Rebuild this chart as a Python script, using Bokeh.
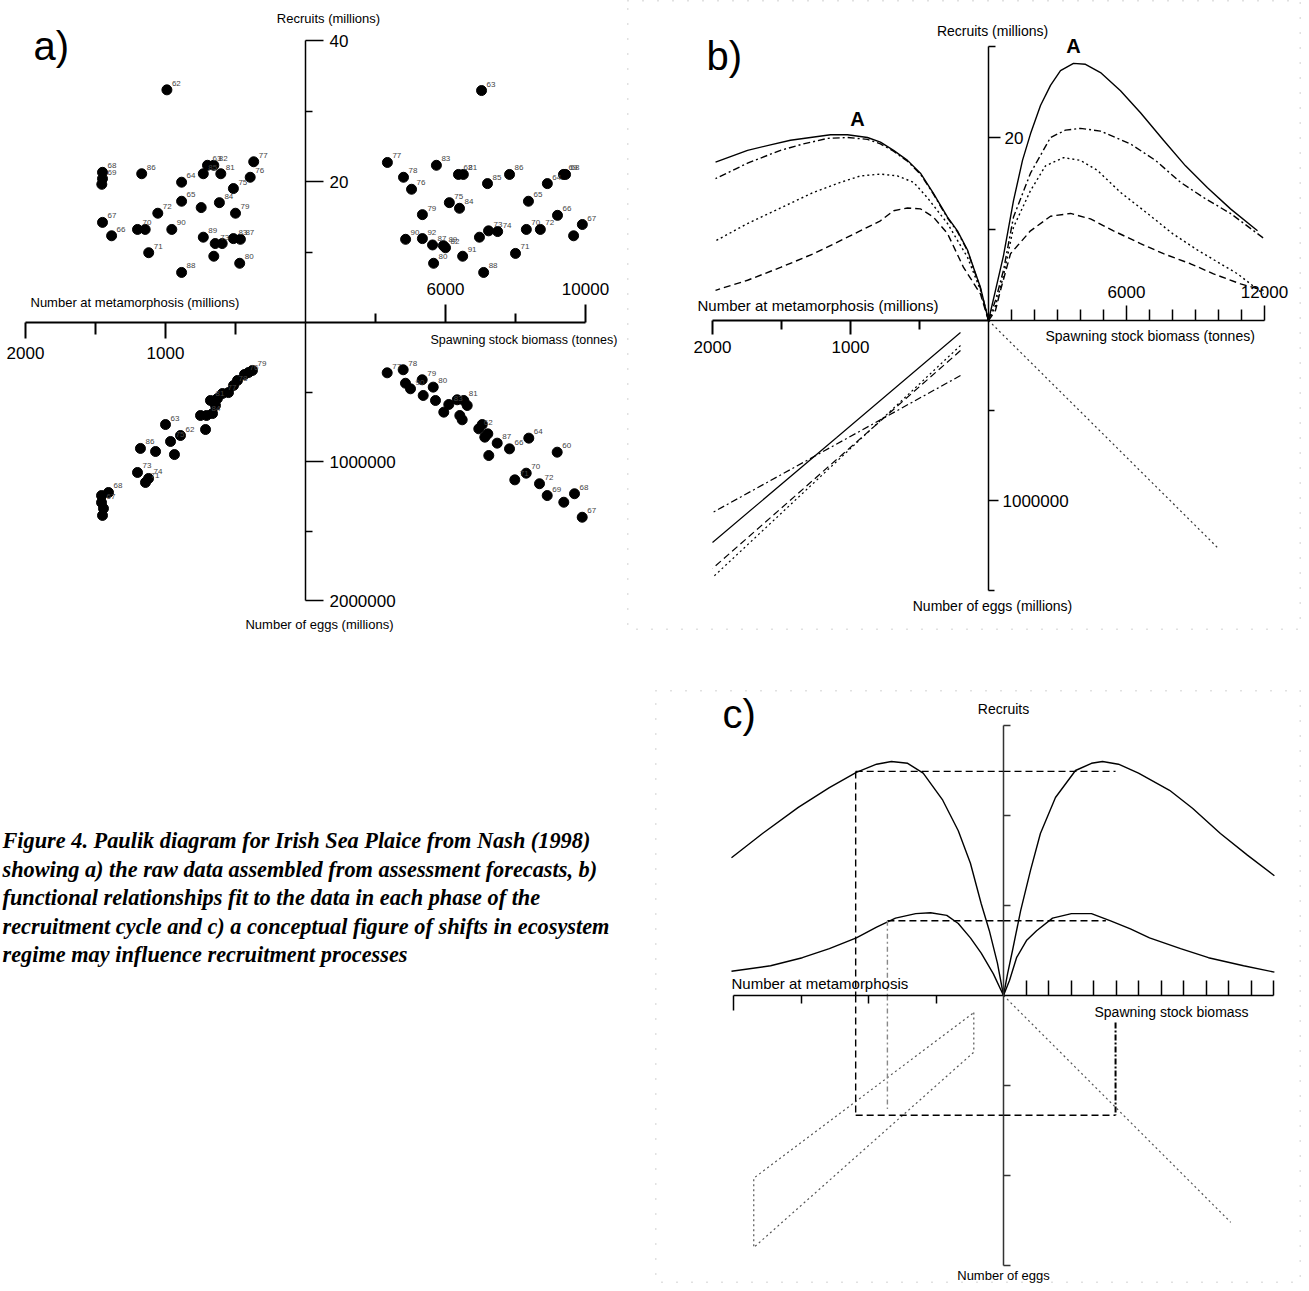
from bokeh.plotting import figure
from bokeh.models import Range1d, LinearAxis, FixedTicker, Spacer
from bokeh.layouts import row, column
from bokeh.core.properties import value
from bokeh.embed import file_html
from bokeh.resources import INLINE

SANS = "Liberation Sans"
SERIF = "Liberation Serif"

# ---------------- Panel a : raw data (year labels) ----------------
# top-left quadrant: number at metamorphosis vs recruits
a_tl_year = ["62", "68", "69", "", "86", "67", "66", "70", "", "71", "72", "65", "64", "85", "90", "63",
             "82", "81", "", "84", "75", "77", "76", "79", "89", "73", "", "83", "87", "80", "88", ""]
a_tl_meta = [990, 1450, 1450, 1455, 1170, 1450, 1385, 1200, 1145, 1120, 1055, 885, 885, 730, 955, 700,
             655, 605, 745, 615, 515, 370, 395, 500, 730, 645, 595, 515, 465, 470, 885, 655]
a_tl_rec = [33.0, 21.3, 20.4, 19.6, 21.1, 14.2, 12.3, 13.2, 13.2, 9.9, 15.5, 17.2, 19.9, 21.1, 13.2, 22.3,
            22.3, 21.1, 16.3, 17.0, 19.0, 22.8, 20.6, 15.5, 12.1, 11.2, 11.2, 11.9, 11.8, 8.4, 7.1, 9.4]

# top-right quadrant: spawning stock biomass vs recruits
a_tr_year = ["63", "77", "78", "76", "83", "62", "81", "85", "86", "64", "69", "68", "65", "75", "84", "79",
             "66", "67", "", "90", "92", "87", "89", "82", "91", "", "73", "74", "70", "72", "71", "88", "80"]
a_tr_ssb = [7030, 4340, 4800, 5030, 5740, 6370, 6510, 7200, 7830, 8910, 9370, 9430, 8370, 6110, 6400, 5340,
            9200, 9910, 9660, 4860, 5340, 5630, 5940, 6000, 6490, 6970, 7230, 7490, 8310, 8710, 8000, 7090, 5660]
a_tr_rec = [32.9, 22.7, 20.6, 18.9, 22.3, 21.0, 21.0, 19.7, 21.0, 19.7, 21.0, 21.0, 17.2, 17.0, 16.2, 15.3,
            15.2, 13.9, 12.3, 11.8, 11.9, 11.0, 10.9, 10.6, 9.4, 12.1, 13.0, 12.9, 13.2, 13.2, 9.8, 7.1, 8.4]

# bottom-left quadrant: number at metamorphosis vs number of eggs
a_bl_year = ["79", "", "76", "", "78", "", "77", "", "", "81", "", "84", "", "", "62", "75", "63", "",
             "", "86", "73", "71", "74", "68", "", "67", "", ""]
a_bl_meta = [379, 407, 436, 486, 514, 550, 593, 629, 643, 679, 664, 707, 750, 714, 893, 964, 1000, 936,
             1071, 1179, 1200, 1143, 1121, 1407, 1457, 1457, 1443, 1450]
a_bl_egg = [345000, 360000, 374000, 417000, 453000, 504000, 511000, 547000, 597000, 561000, 655000, 669000,
            669000, 770000, 813000, 856000, 734000, 950000, 928000, 906000, 1079000, 1151000, 1122000,
            1223000, 1245000, 1295000, 1338000, 1388000]

# bottom-right quadrant: spawning stock biomass vs number of eggs
a_br_year = ["77", "78", "", "90", "79", "", "80", "", "", "83", "", "", "", "81", "", "62", "", "", "",
             "87", "66", "", "64", "60", "71", "70", "72", "69", "", "68", "67"]
a_br_ssb = [4334, 4791, 4857, 5000, 5334, 5363, 5649, 5714, 5951, 6094, 6334, 6409, 6477, 6523, 6620, 6951,
            7049, 7123, 7209, 7477, 7829, 7237, 8380, 9191, 7980, 8306, 8686, 8906, 9380, 9686, 9906]
a_br_egg = [362000, 340000, 437000, 477000, 412000, 525000, 465000, 561000, 645000, 590000, 556000, 669000,
            700000, 561000, 597000, 765000, 734000, 825000, 801000, 868000, 909000, 957000, 832000, 933000,
            1132000, 1084000, 1160000, 1245000, 1293000, 1232000, 1401000]

# ---------------- Panel b : fitted relationships ----------------
b_tl_solid_meta = [0, 58, 109, 152, 225, 297, 399, 493, 587, 688, 783, 877, 1022, 1145, 1290, 1435, 1580, 1746, 1978]
b_tl_solid_rec = [0, 3.6, 5.8, 7.7, 9.8, 11.3, 13.9, 16.1, 17.5, 18.6, 19.5, 20.0, 20.3, 20.3, 20.0, 19.7, 19.2, 18.6, 17.3]
b_tl_dashdot_meta = [0, 58, 109, 152, 225, 297, 399, 493, 587, 688, 783, 877, 1022, 1167, 1341, 1507, 1746, 1978]
b_tl_dashdot_rec = [0, 3.5, 5.7, 7.6, 9.7, 11.2, 13.8, 16.0, 17.4, 18.5, 19.3, 19.8, 20.0, 19.9, 19.3, 18.6, 17.2, 15.5]
b_tl_dotted_meta = [0, 58, 152, 297, 442, 543, 659, 783, 928, 1072, 1268, 1507, 1746, 1978]
b_tl_dotted_rec = [0, 3.3, 6.9, 10.6, 13.4, 15.1, 15.8, 16.0, 15.8, 15.1, 14.0, 12.3, 10.6, 8.7]
b_tl_dashed_meta = [0, 58, 181, 297, 399, 493, 587, 688, 783, 1022, 1268, 1507, 1746, 1978]
b_tl_dashed_rec = [0, 2.9, 5.8, 9.5, 11.3, 12.2, 12.3, 12.0, 10.9, 9.1, 7.3, 5.8, 4.4, 3.3]

b_tr_solid_ssb = [0, 304, 652, 1087, 1478, 1826, 2261, 2696, 3130, 3696, 4217, 4870, 5739, 6609, 7609,
                  8565, 9522, 10522, 11696]
b_tr_solid_rec = [0, 3.3, 7.1, 13.1, 17.5, 20.4, 23.5, 25.7, 27.3, 28.1, 28.0, 27.1, 25.1, 22.7, 19.7,
                  16.9, 14.5, 12.2, 9.8]
b_tr_dashdot_ssb = [0, 304, 652, 1087, 1826, 2696, 3348, 4000, 4870, 6174, 7261, 8348, 9435, 10522, 11957]
b_tr_dashdot_rec = [0, 2.2, 5.5, 11.3, 16.1, 20.0, 20.8, 21.0, 20.7, 19.3, 17.5, 15.1, 13.3, 11.7, 9.0]
b_tr_dotted_ssb = [0, 304, 652, 1087, 1826, 2478, 3261, 4000, 4739, 5739, 6913, 8000, 9087, 10087, 10826, 11957]
b_tr_dotted_rec = [0, 1.6, 4.9, 10.2, 14.2, 16.9, 17.8, 17.5, 16.4, 14.0, 11.7, 9.5, 7.7, 6.2, 5.1, 2.9]
b_tr_dashed_ssb = [0, 304, 522, 957, 1826, 2696, 3565, 4435, 5435, 6609, 7609, 8783, 9783, 10957, 11957]
b_tr_dashed_rec = [0, 1.1, 3.3, 7.3, 9.8, 11.4, 11.7, 11.1, 9.8, 8.4, 7.3, 6.2, 5.1, 4.0, 3.3]

b_bl_meta = [203, 1100, 2000]
b_bl_solid_egg = [67000, 650000, 1233000]
b_bl_dashdot_egg = [306000, 686000, 1067000]
b_bl_dotted_egg = [139000, 783000, 1428000]
b_bl_dashed_egg = [167000, 772000, 1378000]

b_br_ssb = [0, 5000, 10000]
b_br_egg = [0, 633000, 1267000]

# ---------------- Panel c : conceptual figure ----------------
c_tl_upper_meta = [0, 0.09, 0.21, 0.33, 0.49, 0.67, 0.90, 1.19, 1.42, 1.66, 1.88, 2.18, 2.58, 3.04, 3.57, 4.03]
c_tl_upper_rec = [0, 0.36, 0.72, 1.02, 1.47, 1.83, 2.17, 2.47, 2.58, 2.60, 2.57, 2.48, 2.31, 2.09, 1.80, 1.53]
c_tr_upper_ssb = [0, 0.18, 0.40, 0.76, 1.20, 1.64, 2.31, 3.20, 3.91, 4.40, 5.11, 6.0, 7.38, 8.4, 9.64, 10.84, 12.04]
c_tr_upper_rec = [0, 0.24, 0.50, 0.94, 1.39, 1.80, 2.20, 2.50, 2.58, 2.60, 2.57, 2.47, 2.28, 2.08, 1.80, 1.56, 1.33]
c_tl_lower_meta = [0, 0.15, 0.33, 0.49, 0.67, 0.84, 1.08, 1.30, 1.60, 1.88, 2.18, 2.58, 2.98, 3.45, 4.03]
c_tl_lower_rec = [0, 0.24, 0.47, 0.64, 0.80, 0.89, 0.92, 0.91, 0.86, 0.76, 0.64, 0.52, 0.42, 0.33, 0.27]
c_tr_lower_ssb = [0, 0.27, 0.58, 1.02, 1.47, 2.18, 3.02, 3.91, 4.76, 5.64, 6.49, 7.87, 9.11, 10.67, 12.04]
c_tr_lower_rec = [0, 0.17, 0.42, 0.61, 0.72, 0.86, 0.91, 0.91, 0.83, 0.74, 0.64, 0.52, 0.42, 0.33, 0.26]

c_poly_meta = [0.44, 0.44, 3.70, 3.70, 0.44]
c_poly_egg = [0.19, 0.63, 2.80, 2.03, 0.19]
c_br_ssb = [0, 10.1]
c_br_egg = [0, 2.52]

# reference (projection) lines of panel c
c_hi_rec, c_hi_meta, c_hi_ssb, c_hi_egg = 2.49, 2.19, 4.98, 1.33
c_lo_rec, c_lo_meta, c_lo_ssb, c_lo_egg = 0.83, 1.72, 4.55, 1.26

caption_lines = [
    "Figure 4.  Paulik diagram for  Irish Sea Plaice from Nash (1998)",
    "showing a) the raw data assembled from assessment forecasts, b)",
    "functional relationships fit to the data in each phase of the",
    "recruitment cycle and c) a conceptual figure of shifts in ecosystem",
    "regime may influence recruitment processes",
]


def panel(w, h, left, top, ox, oy, meta_ppu, ssb_ppu, ssb0, rec_ppu, egg_ppu):
    right, bottom = left + w, top + h
    p = figure(width=w, height=h,
               x_range=Range1d(ssb0 + (left - ox) / ssb_ppu, ssb0 + (right - ox) / ssb_ppu),
               y_range=Range1d((oy - bottom) / rec_ppu, (oy - top) / rec_ppu),
               x_axis_type=None, y_axis_type=None, output_backend="svg",
               toolbar_location=None, min_border=0)
    p.extra_x_ranges = {"meta": Range1d((ox - left) / meta_ppu, (ox - right) / meta_ppu),
                        "px": Range1d(left, right)}
    p.extra_y_ranges = {"egg": Range1d((bottom - oy) / egg_ppu, (top - oy) / egg_ppu),
                        "py": Range1d(bottom, top)}
    p.background_fill_color = "white"
    p.border_fill_color = "white"
    p.outline_line_color = None
    return p


def axis(p, side, rng, bounds, major, minor, labels, fixed, tmaj, tmin, standoff,
         fs="17px", lw=1.5, color="black"):
    kw = dict(bounds=bounds, fixed_location=fixed,
              ticker=FixedTicker(ticks=major, minor_ticks=minor),
              major_tick_out=tmaj, major_tick_in=0, minor_tick_out=tmin, minor_tick_in=0,
              major_label_standoff=standoff, major_label_text_font=SANS,
              major_label_text_font_size=fs, major_label_text_color="black",
              axis_line_width=lw, axis_line_color=color,
              major_tick_line_width=lw, minor_tick_line_width=lw,
              major_tick_line_color=color, minor_tick_line_color=color,
              major_label_overrides=labels)
    if side in ("below", "above"):
        ax = LinearAxis(x_range_name=rng, **kw)
    else:
        ax = LinearAxis(y_range_name=rng, **kw)
    p.add_layout(ax, side)


def label(p, x, y, text, size, align="center", style="normal", font=SANS, baseline="middle"):
    p.text(x=[x], y=[y], text=[text], x_range_name="px", y_range_name="py",
           text_font=value(font), text_font_size=size, text_align=align,
           text_baseline=baseline, text_font_style=style, text_color="black")


def years(p, xs, ys, labs, xr="default", yr="default"):
    p.scatter(x=xs, y=ys, x_range_name=xr, y_range_name=yr, size=10, color="black")
    p.text(x=xs, y=ys, text=labs, x_range_name=xr, y_range_name=yr, x_offset=5, y_offset=-4,
           text_font=value(SANS), text_font_size="8px", text_color="#444",
           text_baseline="bottom", text_align="left")


DASHES = {"solid": "solid", "dashdot": "7 3 2 3", "dotted": "2 3", "dashed": "7 4"}

# ================= Panel a =================
pa = panel(627, 1283, 0, 0, ox=305, oy=322, meta_ppu=0.14, ssb_ppu=0.035, ssb0=2000,
           rec_ppu=7.05, egg_ppu=139e-6)
axis(pa, "below", "meta", (0, 2000), [1000, 2000], [500, 1500], {1000: "1000", 2000: "2000"},
     0, 16, 12, 8, lw=2)
axis(pa, "above", "default", (2000, 10000), [6000, 10000], [4000, 8000], {6000: "6000", 10000: "10000"},
     0, 18, 9, 10, lw=2)
axis(pa, "right", "default", (0, 40), [20, 40], [10, 30], {20: "20", 40: "40"}, 2000, 18, 7, 6)
axis(pa, "right", "egg", (0, 2000000), [1000000, 2000000], [500000, 1500000],
     {1000000: "1000000", 2000000: "2000000"}, 2000, 18, 7, 6)

years(pa, a_tl_meta, a_tl_rec, a_tl_year, xr="meta")
years(pa, a_tr_ssb, a_tr_rec, a_tr_year)
years(pa, a_bl_meta, a_bl_egg, a_bl_year, xr="meta", yr="egg")
years(pa, a_br_ssb, a_br_egg, a_br_year, yr="egg")

label(pa, 33, 45, "a)", "40px", align="left")
label(pa, 328, 18, "Recruits (millions)", "13px")
label(pa, 30, 302, "Number at metamorphosis (millions)", "13px", align="left")
label(pa, 430, 339, "Spawning stock biomass (tonnes)", "12.5px", align="left")
label(pa, 319, 624, "Number of eggs (millions)", "13px")
for i, line in enumerate(caption_lines):
    label(pa, 2, 840 + i * 28.5, line, "22.3px", align="left", style="bold italic", font=SERIF)

# ================= Panel b =================
pb = panel(674, 630, 627, 0, ox=988, oy=320, meta_ppu=0.138, ssb_ppu=0.023, ssb0=0,
           rec_ppu=9.15, egg_ppu=180e-6)
pb.outline_line_color = "#c4c4c4"
pb.outline_line_dash = "1 14"
pb.outline_line_width = 2
axis(pb, "below", "meta", (0, 2000), [1000, 2000], [500, 1500], {1000: "1000", 2000: "2000"},
     0, 14, 9, 6, lw=2)
axis(pb, "above", "default", (0, 12000), [6000, 12000],
     [1000, 2000, 3000, 4000, 5000, 7000, 8000, 9000, 10000, 11000], {6000: "6000", 12000: "12000"},
     0, 15, 11, 8)
axis(pb, "right", "default", (0, 30), [20], [10, 30], {20: "20"}, 0, 12, 7, 4)
axis(pb, "right", "egg", (0, 1500000), [1000000], [500000, 1500000], {1000000: "1000000"}, 0, 10, 6, 4)

for xs, ys, d in [(b_tl_solid_meta, b_tl_solid_rec, "solid"), (b_tl_dashdot_meta, b_tl_dashdot_rec, "dashdot"),
                  (b_tl_dotted_meta, b_tl_dotted_rec, "dotted"), (b_tl_dashed_meta, b_tl_dashed_rec, "dashed")]:
    pb.line(xs, ys, x_range_name="meta", line_color="black", line_width=1.4, line_dash=DASHES[d])
for xs, ys, d in [(b_tr_solid_ssb, b_tr_solid_rec, "solid"), (b_tr_dashdot_ssb, b_tr_dashdot_rec, "dashdot"),
                  (b_tr_dotted_ssb, b_tr_dotted_rec, "dotted"), (b_tr_dashed_ssb, b_tr_dashed_rec, "dashed")]:
    pb.line(xs, ys, line_color="black", line_width=1.4, line_dash=DASHES[d])
for ys, d in [(b_bl_solid_egg, "solid"), (b_bl_dashdot_egg, "dashdot"),
              (b_bl_dotted_egg, "dotted"), (b_bl_dashed_egg, "dashed")]:
    pb.line(b_bl_meta, ys, x_range_name="meta", y_range_name="egg", line_color="black",
            line_width=1.2, line_dash=DASHES[d])
pb.line(b_br_ssb, b_br_egg, y_range_name="egg", line_color="#333", line_width=1.2, line_dash="2 3")

label(pb, 706, 55, "b)", "40px", align="left")
label(pb, 857, 118, "A", "20px", style="bold")
label(pb, 1073, 45, "A", "20px", style="bold")
label(pb, 992, 30, "Recruits (millions)", "14px")
label(pb, 697, 305, "Number at metamorphosis (millions)", "15px", align="left")
label(pb, 1045, 335, "Spawning stock biomass (tonnes)", "14px", align="left")
label(pb, 992, 605, "Number of eggs (millions)", "14px")

# ================= Panel c =================
pc = panel(646, 593, 655, 690, ox=1003, oy=995, meta_ppu=67.5, ssb_ppu=22.5, ssb0=0,
           rec_ppu=90, egg_ppu=90)
pc.outline_line_color = "#c4c4c4"
pc.outline_line_dash = "1 14"
pc.outline_line_width = 2
axis(pc, "below", "meta", (0, 4), [4], [1, 2, 3], {4: ""}, 0, 15, 8, 2)
axis(pc, "above", "default", (0, 12), list(range(1, 13)), [], {k: "" for k in range(1, 13)}, 0, 15, 0, 2)
axis(pc, "right", "default", (0, 3), [1, 2, 3], [], {1: "", 2: "", 3: ""}, 0, 7, 0, 2, color="#333")
axis(pc, "right", "egg", (0, 3), [1, 2, 3], [], {1: "", 2: "", 3: ""}, 0, 7, 0, 2, color="#333")

pc.line(c_tl_upper_meta, c_tl_upper_rec, x_range_name="meta", line_color="black", line_width=1.4)
pc.line(c_tr_upper_ssb, c_tr_upper_rec, line_color="black", line_width=1.4)
pc.line(c_tl_lower_meta, c_tl_lower_rec, x_range_name="meta", line_color="black", line_width=1.4)
pc.line(c_tr_lower_ssb, c_tr_lower_rec, line_color="black", line_width=1.4)
pc.line(c_poly_meta, c_poly_egg, x_range_name="meta", y_range_name="egg", line_color="#555",
        line_width=1.2, line_dash="2 3")
pc.line(c_br_ssb, c_br_egg, y_range_name="egg", line_color="#555", line_width=1.2, line_dash="2 3")

dash_kw = dict(line_color="black", line_width=1.4, line_dash="7 4")
# upper projection rectangle
pc.line([c_hi_meta, 0], [c_hi_rec, c_hi_rec], x_range_name="meta", **dash_kw)
pc.line([0, c_hi_ssb], [c_hi_rec, c_hi_rec], **dash_kw)
pc.line([c_hi_meta, c_hi_meta], [c_hi_rec, 0], x_range_name="meta", **dash_kw)
pc.line([c_hi_meta, c_hi_meta], [0, c_hi_egg], x_range_name="meta", y_range_name="egg", **dash_kw)
pc.line([c_hi_meta, 0], [c_hi_egg, c_hi_egg], x_range_name="meta", y_range_name="egg", **dash_kw)
pc.line([0, c_hi_ssb], [c_hi_egg, c_hi_egg], y_range_name="egg", **dash_kw)
pc.line([c_hi_ssb, c_hi_ssb], [0.3, c_hi_egg], y_range_name="egg", line_color="black",
        line_width=2, line_dash="6 2 2 2")
# lower projection
pc.line([c_lo_meta, 0], [c_lo_rec, c_lo_rec], x_range_name="meta", **dash_kw)
pc.line([0, c_lo_ssb], [c_lo_rec, c_lo_rec], **dash_kw)
pc.line([c_lo_meta, c_lo_meta], [c_lo_rec, 0], x_range_name="meta", line_color="#888",
        line_width=1.4, line_dash="5 3 2 3")
pc.line([c_lo_meta, c_lo_meta], [0, c_lo_egg], x_range_name="meta", y_range_name="egg",
        line_color="#888", line_width=1.4, line_dash="5 3 2 3")

label(pc, 722, 713, "c)", "40px", align="left")
label(pc, 1003, 708, "Recruits", "14px")
label(pc, 731, 983, "Number at metamorphosis", "15px", align="left")
label(pc, 1094, 1011, "Spawning stock biomass", "14px", align="left")
label(pc, 1003, 1275, "Number of eggs", "13px")

layout = row(pa, column(pb, Spacer(width=674, height=60), row(Spacer(width=28, height=593), pc)))

open("out.html", "w").write(file_html(layout, INLINE))
